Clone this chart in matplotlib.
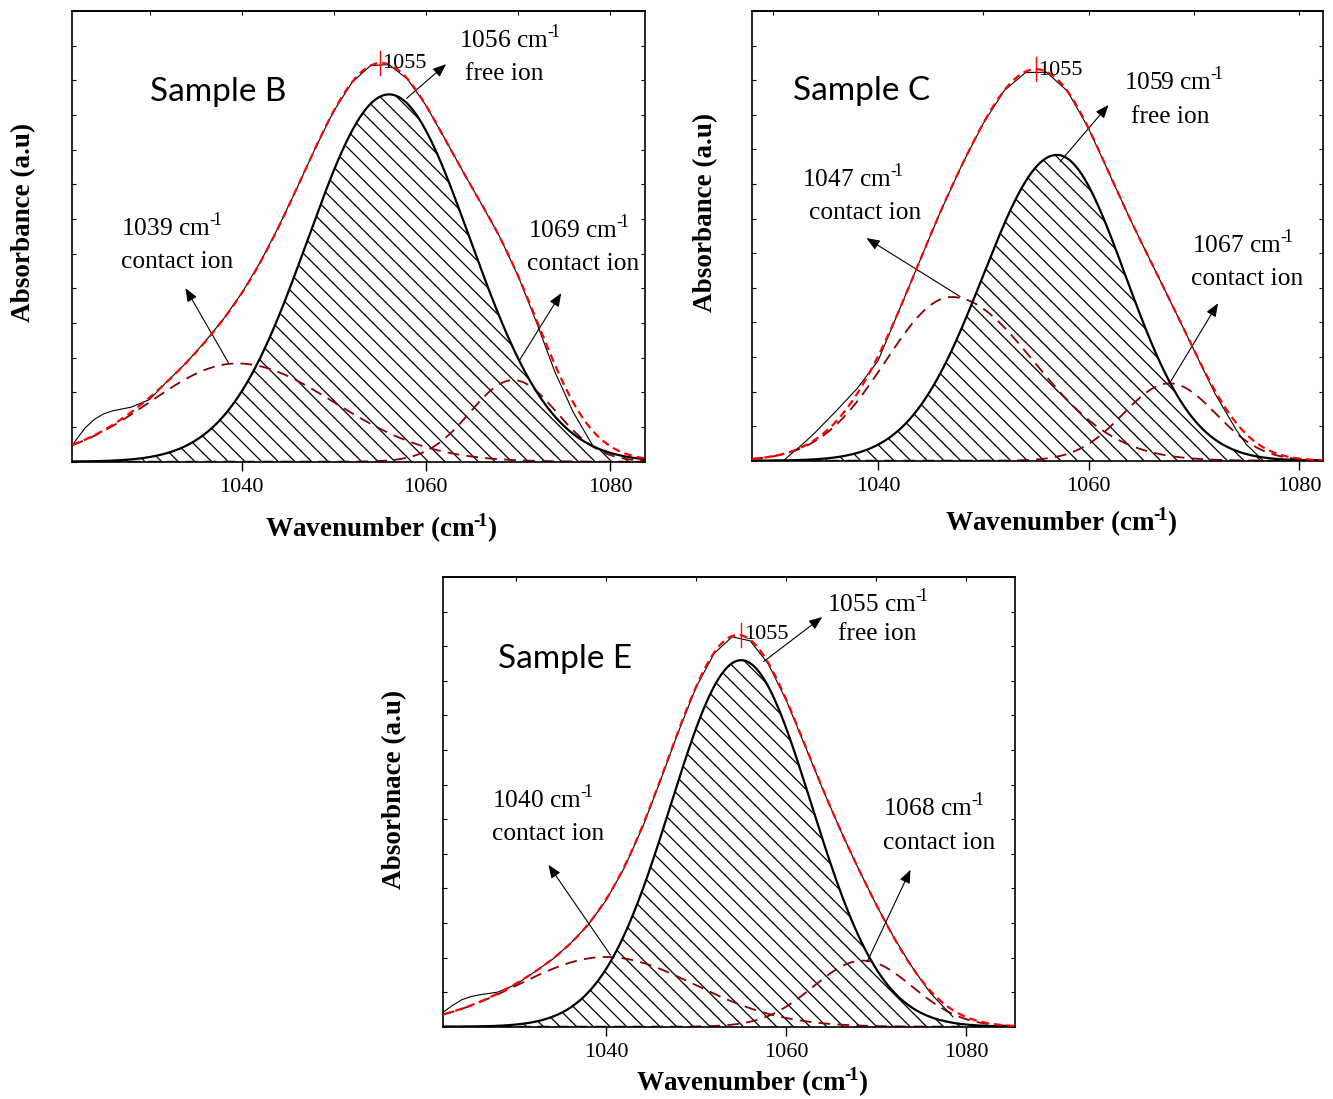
import numpy as np
import matplotlib.pyplot as plt
from matplotlib.ticker import MultipleLocator, NullFormatter

plt.rcParams['font.family'] = 'Liberation Serif'
plt.rcParams['mathtext.fontset'] = 'custom'
plt.rcParams['mathtext.rm'] = 'Liberation Serif'
plt.rcParams['mathtext.bf'] = 'Liberation Serif:bold'
plt.rcParams['hatch.linewidth'] = 0.9

W, H = 1333, 1099

# measured spectra (wavenumber, absorbance a.u.)
b_x = [1021.6, 1022, 1023, 1024, 1025, 1026, 1028, 1030, 1032, 1034, 1036, 1038, 1040,
       1042, 1044, 1046, 1048, 1050, 1052, 1054, 1056, 1058, 1060, 1062, 1064, 1066,
       1068, 1070, 1072, 1074, 1076, 1078.2]
b_abs = [0.035, 0.048, 0.075, 0.094, 0.106, 0.113, 0.121, 0.138, 0.18, 0.22, 0.266, 0.316,
         0.374, 0.442, 0.521, 0.607, 0.696, 0.778, 0.842, 0.879, 0.881, 0.849, 0.791,
         0.719, 0.645, 0.573, 0.50, 0.413, 0.31, 0.20, 0.11, 0.033]

c_x = [1031, 1032, 1033, 1034, 1036, 1038, 1040, 1042, 1044, 1046, 1048, 1050, 1052,
       1054, 1056, 1058, 1060, 1062, 1064, 1066, 1068, 1070, 1072, 1074, 1075, 1076.6]
c_abs = [0.0, 0.02, 0.04, 0.062, 0.11, 0.16, 0.222, 0.334, 0.446, 0.557, 0.659, 0.75,
         0.823, 0.863, 0.864, 0.822, 0.739, 0.637, 0.535, 0.439, 0.344, 0.247, 0.150,
         0.07, 0.036, 0.0]

e_x = [1021.9, 1023, 1024, 1025, 1026, 1028, 1030, 1032, 1034, 1036, 1038, 1040, 1042,
       1044, 1046, 1048, 1050, 1052, 1054, 1056, 1058, 1060, 1062, 1064, 1066, 1068,
       1070, 1072, 1074, 1076, 1078.5]
e_abs = [0.032, 0.048, 0.06, 0.067, 0.071, 0.077, 0.094, 0.121, 0.149, 0.184, 0.226,
         0.281, 0.352, 0.441, 0.545, 0.654, 0.755, 0.830, 0.867, 0.858, 0.807, 0.726,
         0.629, 0.531, 0.438, 0.352, 0.271, 0.197, 0.132, 0.075, 0.022]

# fitted bands: free ion, contact ion (low), contact ion (high)
b_center = [1056, 1039.5, 1069.5]
b_height = [0.815, 0.218, 0.181]
b_wl = [8.8, 9.5, 4.7]
b_wr = [8.8, 10.5, 4.7]

c_center = [1057, 1047, 1067.7]
c_height = [0.68, 0.364, 0.172]
c_wl = [7.0, 6.3, 4.4]
c_wr = [6.5, 7.8, 4.4]

e_center = [1055, 1040, 1068.5]
e_height = [0.815, 0.155, 0.147]
e_wl = [7.8, 9.7, 5.5]
e_wr = [7.8, 9.8, 5.5]

b_tags = ['1056', '1039', '1069']
c_tags = ['1059', '1047', '1067']
e_tags = ['1055', '1040', '1068']
kinds = ['free ion', 'contact ion', 'contact ion']
peak_pos = {'B': 1055, 'C': 1055, 'E': 1055}

unit = ' cm$^{\u2010\\!1}$'


def band(x, center, height, wl, wr):
    x = np.asarray(x, dtype=float)
    w = np.where(x < center, wl, wr)
    return height * np.exp(-(x - center) ** 2 / (2 * w ** 2))


def axes_rect(left, top, right, bottom):
    return [left / W, 1 - bottom / H, (right - left) / W, (bottom - top) / H]


def draw_panel(ax, xlim, mx, my, centers, heights, wl, wr, tags, name, peak,
               text_pos, arrows, peak_lbl, name_pos):
    grid = np.linspace(xlim[0], xlim[1], 800)
    comps = [band(grid, c, h, a, b) for c, h, a, b in zip(centers, heights, wl, wr)]
    total = comps[0] + comps[1] + comps[2]

    # free ion band, hatched
    ax.fill_between(grid, 0, comps[0], facecolor='none', edgecolor='black',
                    hatch='\\\\', linewidth=0, zorder=1)
    for comp in comps[1:]:
        ax.plot(grid, comp, color='#8b0000', lw=1.3, ls=(0, (6.5, 4)), zorder=2)
    ax.plot(grid, comps[0], color='black', lw=1.6, zorder=3)
    ax.plot(mx, my, color='black', lw=0.8, zorder=4)
    ax.plot(grid, total, color='red', lw=1.6, ls=(0, (3.5, 2.2)), zorder=5)

    # peak marker of the fitted envelope
    yp = sum(band(peak, c, h, a, b) for c, h, a, b in zip(centers, heights, wl, wr))
    ax.plot([peak, peak], [yp - 0.027, yp + 0.027], color='red', lw=1.0, zorder=6)
    ax.text(peak_lbl[0], peak_lbl[1], str(peak), fontsize=16, va='baseline', zorder=7)

    for i in range(3):
        (x1, y1), (x2, y2) = text_pos[i]
        ax.text(x1, y1, tags[i] + unit, fontsize=18.3, va='baseline')
        ax.text(x2, y2, kinds[i], fontsize=18.3, va='baseline')
        tail, head = arrows[i]
        ax.annotate('', xy=head, xytext=tail,
                    arrowprops=dict(arrowstyle='-|>,head_length=0.5,head_width=0.2',
                                    color='black', lw=0.8, mutation_scale=16,
                                    shrinkA=0, shrinkB=0))

    ax.text(name_pos[0], name_pos[1], 'Sample ' + name, family='Lato', fontsize=24,
            va='baseline')

    ax.set_xlim(*xlim)
    ax.set_ylim(0, 1)
    ax.xaxis.set_major_locator(MultipleLocator(20))
    ax.set_yticks(np.linspace(0, 1, 14))
    ax.yaxis.set_major_formatter(NullFormatter())
    ax.tick_params(axis='x', direction='out', length=6.5, width=1.0, labelsize=16, pad=5)
    ax.tick_params(axis='y', direction='in', length=3, width=0.8, left=True, right=True)
    top = ax.secondary_xaxis('top')
    top.xaxis.set_major_locator(MultipleLocator(10))
    top.xaxis.set_major_formatter(NullFormatter())
    top.tick_params(direction='in', length=3, width=0.8)
    for sp in list(ax.spines.values()) + list(top.spines.values()):
        sp.set_linewidth(1.2)


fig = plt.figure(figsize=(W / 100, H / 100), dpi=100)

ax_b = fig.add_axes(axes_rect(72, 11, 645, 461.7))
draw_panel(ax_b, (1021.57, 1083.8), b_x, b_abs, b_center, b_height, b_wl, b_wr,
           b_tags, 'B', peak_pos['B'],
           [((1063.6, 0.918), (1064.25, 0.847)),
            ((1026.9, 0.501), (1026.9, 0.430)),
            ((1071.1, 0.496), (1071.0, 0.425))],
           [((1057.9, 0.806), (1062.2, 0.882)),
            ((1038.6, 0.218), (1033.9, 0.385)),
            ((1070.2, 0.226), (1074.7, 0.374))],
           (1055.2, 0.873), (1030.0, 0.801))

ax_c = fig.add_axes(axes_rect(751.7, 11, 1322.7, 460.7))
draw_panel(ax_c, (1028.0, 1082.25), c_x, c_abs, c_center, c_height, c_wl, c_wr,
           c_tags, 'C', peak_pos['C'],
           [((1063.4, 0.824), (1064.05, 0.751)),
            ((1032.8, 0.609), (1033.4, 0.538)),
            ((1069.85, 0.462), (1069.75, 0.391))],
           [((1057.3, 0.665), (1061.9, 0.791)),
            ((1047.8, 0.365), (1038.9, 0.495)),
            ((1067.8, 0.176), (1072.3, 0.350))],
           (1055.2, 0.858), (1031.95, 0.801))

ax_e = fig.add_axes(axes_rect(443, 577, 1015, 1026.7))
draw_panel(ax_e, (1021.9, 1085.4), e_x, e_abs, e_center, e_height, e_wl, e_wr,
           e_tags, 'E', peak_pos['E'],
           [((1064.5, 0.922), (1065.8, 0.860)),
            ((1027.3, 0.486), (1027.3, 0.415)),
            ((1070.8, 0.469), (1070.8, 0.395))],
           [((1057.5, 0.812), (1064.0, 0.911)),
            ((1040.5, 0.159), (1033.6, 0.360)),
            ((1069.0, 0.145), (1073.8, 0.349))],
           (1055.3, 0.862), (1028.0, 0.797))

# axis titles placed in figure pixels
xlab = 'Wavenumber (cm$^{\\mathbf{\u2010\\!1}}$)'
for cx, by in [(381, 537), (1061, 531), (752, 1091)]:
    fig.text(cx / W, 1 - by / H, xlab, fontsize=19.5, fontweight='bold',
             ha='center', va='baseline')
for cx, cy, lab in [(24, 222, 'Absorbance (a.u)'), (706, 212, 'Absorbance (a.u)'),
                    (395, 789, 'Absorbnace (a.u)')]:
    fig.text(cx / W, 1 - cy / H, lab, fontsize=19.5, fontweight='bold', rotation=90,
             ha='center', va='center')

fig.savefig('out.png', dpi=100)
